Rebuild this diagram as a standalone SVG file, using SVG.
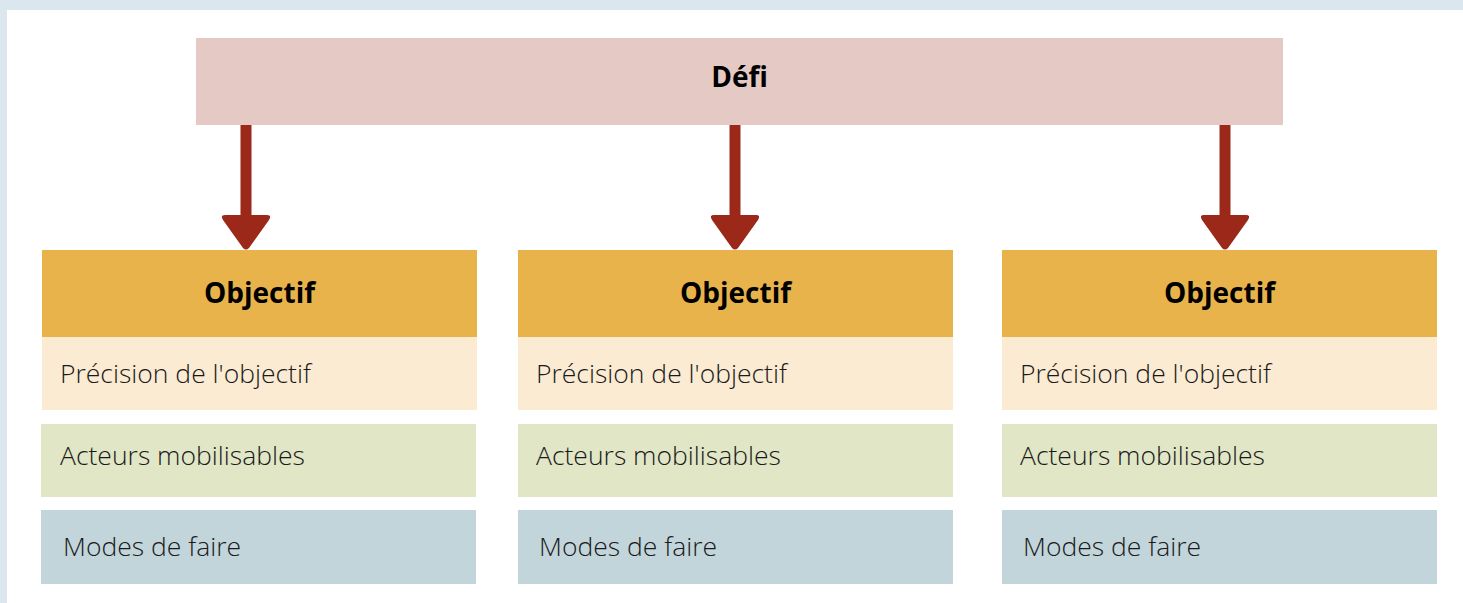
<svg xmlns="http://www.w3.org/2000/svg" width="1463" height="603" viewBox="0 0 1463 603">
<style>
.t{font-family:"Open Sans","Liberation Sans",sans-serif;fill:#1a1a1a}
.b{font-family:"Open Sans","Liberation Sans",sans-serif;font-weight:700;font-size:28px;fill:#000;text-anchor:middle}
.l{font-weight:300;font-size:26.5px}
.head{fill:#e9b34b}
.p{fill:#faebd2}
.a{fill:#e1e6c6}
.m{fill:#c2d5db}
.arr{fill:#9b2818}
</style>
<defs>
<path id="arrow" class="arr" d="M-5.5,0 L5.5,0 L5.5,90 L21,90 Q26,90 23,95 L3,123 Q0,126 -3,123 L-23,95 Q-26,90 -21,90 L-5.5,90 Z"/>
</defs>
<rect x="0" y="0" width="1463" height="603" fill="#dae7ee"/>
<rect x="7" y="10" width="1456" height="593" fill="#ffffff"/>
<g id="defi">
<rect x="196" y="38" width="1087" height="87" fill="#e5c9c5"/>
<text class="b" x="739.5" y="87">Défi</text>
</g>
<g id="connectors">
<use href="#arrow" x="246" y="125"/>
<use href="#arrow" x="735" y="125"/>
<use href="#arrow" x="1225" y="125"/>
</g>
<g id="col1">
<rect class="head" x="42" y="250" width="435" height="87"/>
<text class="b" x="259.5" y="303">Objectif</text>
<rect class="p" x="42" y="337" width="435" height="73"/>
<text class="t l" x="60" y="383">Précision de l'objectif</text>
<rect class="a" x="41" y="424" width="435" height="73"/>
<text class="t l" x="60" y="465">Acteurs mobilisables</text>
<rect class="m" x="41" y="510" width="435" height="74"/>
<text class="t l" x="63" y="556">Modes de faire</text>
</g>
<g id="col2">
<rect class="head" x="518" y="250" width="435" height="87"/>
<text class="b" x="735.5" y="303">Objectif</text>
<rect class="p" x="518" y="337" width="435" height="73"/>
<text class="t l" x="536" y="383">Précision de l'objectif</text>
<rect class="a" x="518" y="424" width="435" height="73"/>
<text class="t l" x="536" y="465">Acteurs mobilisables</text>
<rect class="m" x="518" y="510" width="435" height="74"/>
<text class="t l" x="539" y="556">Modes de faire</text>
</g>
<g id="col3">
<rect class="head" x="1002" y="250" width="435" height="87"/>
<text class="b" x="1219.5" y="303">Objectif</text>
<rect class="p" x="1002" y="337" width="435" height="73"/>
<text class="t l" x="1020" y="383">Précision de l'objectif</text>
<rect class="a" x="1002" y="424" width="435" height="73"/>
<text class="t l" x="1020" y="465">Acteurs mobilisables</text>
<rect class="m" x="1002" y="510" width="435" height="74"/>
<text class="t l" x="1023" y="556">Modes de faire</text>
</g>
</svg>
